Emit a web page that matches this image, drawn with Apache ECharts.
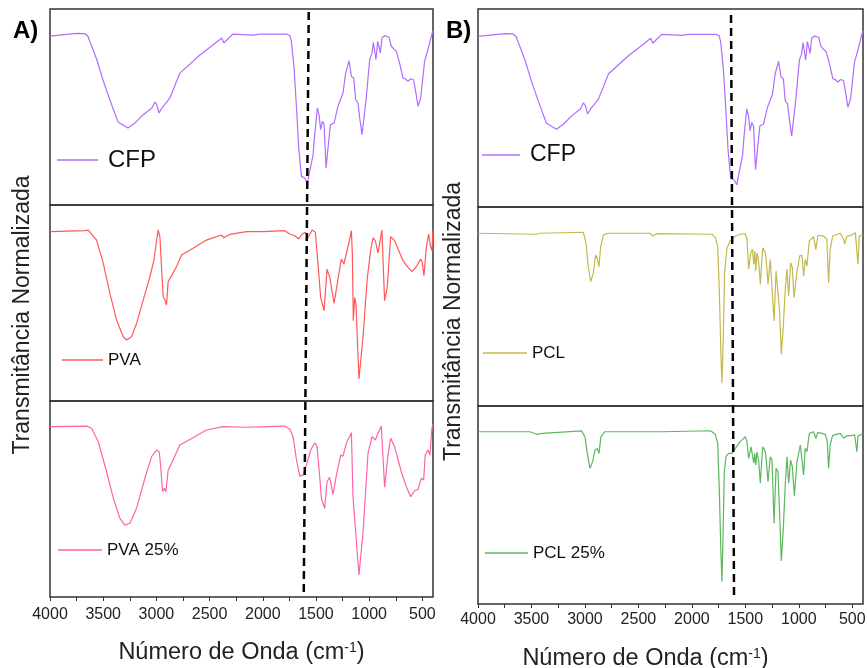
<!DOCTYPE html>
<html>
<head>
<meta charset="utf-8">
<script src="https://cdn.jsdelivr.net/npm/echarts@6/dist/echarts.min.js"></script>
<style>
  html, body { margin: 0; padding: 0; background: #fff; }
  #App { width: 867px; height: 668px; }
</style>
</head>
<body>
<div id="App"></div>
<script>
// FTIR spectra, [wavenumber cm-1, normalized transmittance 0-100 within its own strip]
const cfp = [
  [4000, 86.2], [3747, 87.6], [3671, 87.4], [3643, 86], [3559, 74], [3502, 63.8], [3437, 53.6],
  [3361, 42.4], [3267, 39.3], [3202, 41.8], [3127, 45.9], [3042, 49.5], [3014, 52.6], [2995, 51],
  [2976, 47], [2948, 49.5], [2939, 48.5], [2901, 52.6], [2873, 54.6], [2779, 67.3], [2591, 76.5],
  [2469, 81.6], [2385, 85.2], [2366, 82.7], [2338, 84.2], [2282, 87.2], [2094, 86.7], [2028, 87.2],
  [1775, 87.2], [1746, 86.5], [1731, 83.5], [1706, 69.9], [1683, 49.5], [1662, 29], [1637, 14.6],
  [1606, 13.8], [1580, 11.2], [1559, 17.2], [1527, 25.7], [1512, 35.9], [1487, 49.5], [1471, 46],
  [1456, 38.4], [1440, 42.7], [1424, 41], [1405, 18.9], [1387, 29], [1364, 41], [1330, 41.8],
  [1293, 50.4], [1246, 57.1], [1221, 67.3], [1189, 73.6], [1167, 65.6], [1145, 64.8], [1127, 53.7],
  [1105, 52], [1089, 44.4], [1067, 35.9], [1042, 47.8], [1026, 55.5], [995, 74.2], [973, 77.6],
  [961, 83], [948, 78.4], [936, 74.2], [920, 83.5], [904, 80.1], [895, 77.6], [880, 85.2], [855, 86.4],
  [839, 87.2], [814, 85.6], [792, 81], [745, 78.4], [714, 72.4], [682, 64.8], [660, 64.4], [635, 63.1],
  [610, 64.4], [582, 63.9], [563, 58], [541, 50.4], [516, 54.6], [479, 73.3], [448, 79.2], [416, 86.1],
  [400, 89]
];
const pva = [
  [4000, 86.4], [3671, 86.9], [3640, 87.2], [3562, 82.1], [3499, 70.2], [3437, 54.9], [3374, 41.3],
  [3312, 32.8], [3280, 31.1], [3233, 32.8], [3186, 39.6], [3124, 51.5], [3061, 63.4], [3023, 71.9],
  [2998, 82.1], [2983, 87.2], [2967, 83.8], [2952, 68.5], [2936, 53.2], [2920, 51.5], [2905, 49],
  [2889, 60.9], [2873, 61.7], [2811, 68.5], [2764, 74.5], [2655, 77.9], [2530, 82.1], [2389, 84.7],
  [2366, 83.3], [2310, 85], [2153, 86.4], [2140, 87.2], [1997, 86.4], [1793, 86.9], [1746, 85.2],
  [1699, 84.3], [1662, 82.7], [1631, 85.2], [1599, 86.1], [1574, 83.5], [1537, 87.2], [1506, 86.1],
  [1481, 69.9], [1456, 52.9], [1424, 46.1], [1396, 67.3], [1371, 63.1], [1330, 49.8], [1293, 62.2],
  [1262, 72.4], [1237, 69.9], [1215, 75], [1193, 80.1], [1167, 86.9], [1158, 75], [1149, 41],
  [1136, 52.9], [1124, 49.5], [1096, 11.2], [1058, 32.5], [1017, 63.1], [986, 76.7], [964, 83.2],
  [942, 81.8], [917, 75.4], [880, 87.2], [855, 51.2], [830, 58], [798, 83.8], [761, 81.8], [682, 71.6],
  [635, 68.2], [598, 66], [557, 68.5], [516, 72.4], [501, 70.8], [485, 63.9], [463, 78.4], [441, 85.2],
  [425, 79.2], [410, 76.7], [400, 86.9]
];
const pva25 = [
  [4000, 86.9], [3656, 87.2], [3609, 86.1], [3546, 79.2], [3468, 63.9], [3405, 50.4], [3343, 40.1],
  [3296, 36.7], [3249, 37.6], [3186, 45.3], [3108, 60.6], [3045, 71.6], [2998, 75], [2973, 74.1],
  [2958, 65.6], [2942, 53.7], [2926, 55.5], [2911, 53.7], [2889, 64.8], [2858, 68.2], [2779, 77.6],
  [2655, 81.3], [2530, 85.2], [2373, 86.9], [2153, 86.6], [1966, 86.9], [1793, 87.2], [1746, 85.6],
  [1715, 81.8], [1683, 69.9], [1652, 61.7], [1621, 62.2], [1590, 67.3], [1549, 75], [1512, 78.7],
  [1490, 76.7], [1465, 61.4], [1449, 50.4], [1418, 45.3], [1396, 58.8], [1371, 61.1], [1340, 52.4],
  [1308, 62.2], [1268, 72.4], [1246, 71.9], [1215, 78.4], [1167, 83.8], [1152, 51.2], [1136, 52],
  [1096, 11.2], [1058, 32.5], [1011, 73.3], [973, 81.8], [942, 80.1], [917, 83.5], [886, 87.2],
  [855, 56], [823, 72.4], [798, 81], [761, 76.7], [698, 63.9], [651, 56.3], [610, 51.2], [573, 54.2],
  [541, 54.9], [510, 60.6], [488, 59.7], [473, 72.4], [448, 75], [429, 72.4], [410, 86.1], [400, 88]
];
const pcl = [
  [4000, 86.8], [3451, 86.3], [3420, 86.8], [3015, 87.3], [2990, 81.8], [2969, 70], [2946, 62.5],
  [2922, 66.7], [2900, 75.9], [2885, 74.2], [2869, 70], [2853, 80], [2828, 85.9], [2782, 86.8],
  [2392, 86.8], [2367, 85.4], [2329, 86.6], [1812, 86.3], [1781, 84.6], [1759, 80.4], [1744, 58.6],
  [1728, 25.1], [1719, 11.7], [1707, 33.5], [1694, 67], [1672, 79.5], [1641, 82.9], [1594, 85.4],
  [1547, 86.3], [1501, 86.6], [1485, 83.8], [1469, 68.7], [1450, 77], [1434, 78.7], [1421, 71.2],
  [1412, 77.9], [1403, 67.8], [1391, 77], [1375, 72], [1360, 61.2], [1338, 79.5], [1313, 77],
  [1298, 68.7], [1288, 61.2], [1267, 73.7], [1251, 72.9], [1232, 42.7], [1213, 67.8], [1195, 67],
  [1179, 46.9], [1164, 26], [1145, 40.2], [1127, 58.6], [1111, 68.7], [1095, 55.3], [1077, 72],
  [1061, 69.5], [1045, 54.4], [1017, 67.8], [992, 75.4], [971, 75.7], [955, 65.3], [940, 73.7],
  [924, 70.4], [902, 82.9], [862, 85.1], [841, 78.7], [822, 85.8], [769, 85.4], [738, 83.8],
  [722, 62], [707, 78.7], [684, 85.4], [613, 86.8], [581, 83.8], [572, 81.3], [550, 85.4], [519, 85.6],
  [503, 84.6], [472, 87.1], [455, 87], [447, 71.2], [435, 85.4], [400, 86]
];
const pcl25 = [
  [4000, 87], [3514, 87], [3451, 85.7], [3400, 86.2], [3030, 87.4], [3000, 84.5], [2978, 76.1],
  [2953, 68.5], [2928, 71.9], [2906, 77.8], [2885, 78.6], [2869, 76.1], [2850, 84.5], [2813, 87],
  [2267, 87], [1831, 87.5], [1812, 87], [1781, 85.7], [1759, 81.2], [1744, 58.4], [1728, 24.7],
  [1719, 11.3], [1709, 33.2], [1697, 66.8], [1681, 74.4], [1656, 76.1], [1625, 76.1], [1594, 78.6],
  [1547, 82], [1501, 84.5], [1485, 82], [1469, 73.6], [1447, 79.4], [1434, 79.4], [1421, 71.1],
  [1412, 76.1], [1403, 70.2], [1391, 76.9], [1375, 71.9], [1360, 61], [1338, 79.4], [1313, 76.9],
  [1298, 68.5], [1288, 61.8], [1267, 74.4], [1251, 72.7], [1232, 40.8], [1213, 68.5], [1195, 66.8],
  [1179, 44.9], [1164, 21.7], [1145, 38.2], [1127, 60.1], [1111, 74.4], [1095, 61], [1077, 72.7],
  [1061, 69.4], [1042, 54.7], [1017, 71.9], [986, 80.3], [971, 79.4], [955, 65.2], [940, 78.6],
  [924, 76.9], [902, 86.2], [862, 87], [841, 83.7], [822, 86.7], [753, 85.7], [734, 82], [722, 68.5],
  [707, 80.3], [684, 85.2], [613, 86.2], [581, 83.7], [572, 82.8], [550, 85], [510, 85], [478, 85.4],
  [457, 76.9], [447, 84.9], [400, 86]
];
// dashed guide line (wavenumber at top and bottom of each panel)
const dashA = [[1568, 99.5], [1615, 0.7]];
const dashB = [[1634, 99], [1606, 1.4]];

const labelTicks = [4000, 3500, 3000, 2500, 2000, 1500, 1000, 500];
const allTicks = [4000, 3750, 3500, 3250, 3000, 2750, 2500, 2250, 2000, 1750, 1500, 1250, 1000, 750, 500];

const FONT = 'Arial, "Liberation Sans", sans-serif';

// strips: [left, top, width, height]
const strips = [
  [50, 9, 383, 196], [50, 205, 383, 196], [50, 401, 383, 196],
  [478, 9, 385, 198], [478, 207, 385, 199], [478, 406, 385, 198]
];
const names = ['CFP', 'PVA', 'PVA 25%', 'CFP ', 'PCL', 'PCL 25%'];
const datas = [cfp, pva, pva25, cfp, pcl, pcl25];
const colors = ['#b26cff', '#ff5858', '#ff62a8', '#b26cff', '#c4b94c', '#5cb85c'];
// legend: [left, lineY, lineWidth, fontSize, textPad]
const legendPos = [
  [57, 160, 41, 24, 5], [62, 360, 41, 17, 0], [58, 550, 44, 17, 0],
  [482, 155, 38, 23, 5], [483, 353, 44, 17, 0], [485, 553, 43, 17, 0]
];

const chart = echarts.init(document.getElementById('App'));

const grid = strips.map((s) => ({
  left: s[0], top: s[1], width: s[2], height: s[3], outerBoundsMode: 'none',
  show: true, borderColor: '#333', borderWidth: 1.5, backgroundColor: 'transparent'
}));
grid.push({ left: 50, top: 9, width: 383, height: 588, outerBoundsMode: 'none' });
grid.push({ left: 478, top: 9, width: 385, height: 595, outerBoundsMode: 'none' });

const xAxis = grid.map((g, i) => {
  const bottom = i === 2 || i === 5;
  return {
    type: 'value', gridIndex: i, min: 400, max: 4000, inverse: true,
    axisLine: { show: false },
    splitLine: { show: false },
    axisTick: { show: bottom, inside: false, length: 4, lineStyle: { color: '#333' }, customValues: allTicks },
    axisLabel: {
      show: bottom, customValues: labelTicks, fontSize: 16, color: '#222', fontFamily: FONT,
      margin: i === 2 ? 10 : 8,
      formatter: (v) => String(v)
    },
    name: bottom ? 'Número de Onda (cm{sup|-1})' : '',
    nameLocation: 'middle',
    nameGap: i === 2 ? 44 : 43,
    nameTextStyle: {
      fontSize: 23.5, color: '#222', fontFamily: FONT,
      padding: i === 5 ? [0, 50, 0, 0] : 0,
      rich: { sup: { fontSize: 14, verticalAlign: 'top', padding: [0, 0, 10, 0], color: '#222', fontFamily: FONT } }
    }
  };
});

const yAxis = grid.map((g, i) => ({
  type: 'value', gridIndex: i, min: 0, max: 100,
  axisLine: { show: false }, axisTick: { show: false }, axisLabel: { show: false },
  splitLine: { show: false },
  name: i === 1 || i === 4 ? 'Transmitância Normalizada' : '',
  nameLocation: 'middle',
  nameGap: i === 1 ? 16 : 13,
  nameTextStyle: {
    fontSize: 23, color: '#222', fontFamily: FONT,
    padding: i === 1 ? [0, 24, 0, 0] : [0, 30, 0, 0]
  }
}));

const series = datas.map((d, i) => ({
  name: names[i],
  type: 'line', xAxisIndex: i, yAxisIndex: i, data: d,
  symbol: 'none', silent: true, animation: false,
  lineStyle: { color: colors[i], width: 1.2 },
  itemStyle: { color: colors[i] }
}));
series.push({
  type: 'line', xAxisIndex: 6, yAxisIndex: 6, data: dashA, symbol: 'none', silent: true, animation: false, z: 10,
  lineStyle: { color: '#000', width: 2.5, type: [8, 5] }
});
series.push({
  type: 'line', xAxisIndex: 7, yAxisIndex: 7, data: dashB, symbol: 'none', silent: true, animation: false, z: 10,
  lineStyle: { color: '#000', width: 2.5, type: [8, 5] }
});

const legend = legendPos.map((p, i) => ({
  data: [series[i].name], left: p[0], top: p[1] - p[3] / 2, padding: 0,
  icon: 'rect', itemWidth: p[2], itemHeight: 1.3, selectedMode: false,
  textStyle: { fontSize: p[3], color: '#111', fontFamily: FONT, padding: [0, 0, 0, p[4]] }
}));

chart.setOption({
  animation: false,
  title: [
    { text: 'A)', left: 13, top: 19, padding: 0, textStyle: { fontSize: 24, fontWeight: 'bold', color: '#000', fontFamily: FONT } },
    { text: 'B)', left: 446, top: 19, padding: 0, textStyle: { fontSize: 24, fontWeight: 'bold', color: '#000', fontFamily: FONT } }
  ],
  legend: legend,
  grid: grid,
  xAxis: xAxis,
  yAxis: yAxis,
  series: series
});
</script>
</body>
</html>
